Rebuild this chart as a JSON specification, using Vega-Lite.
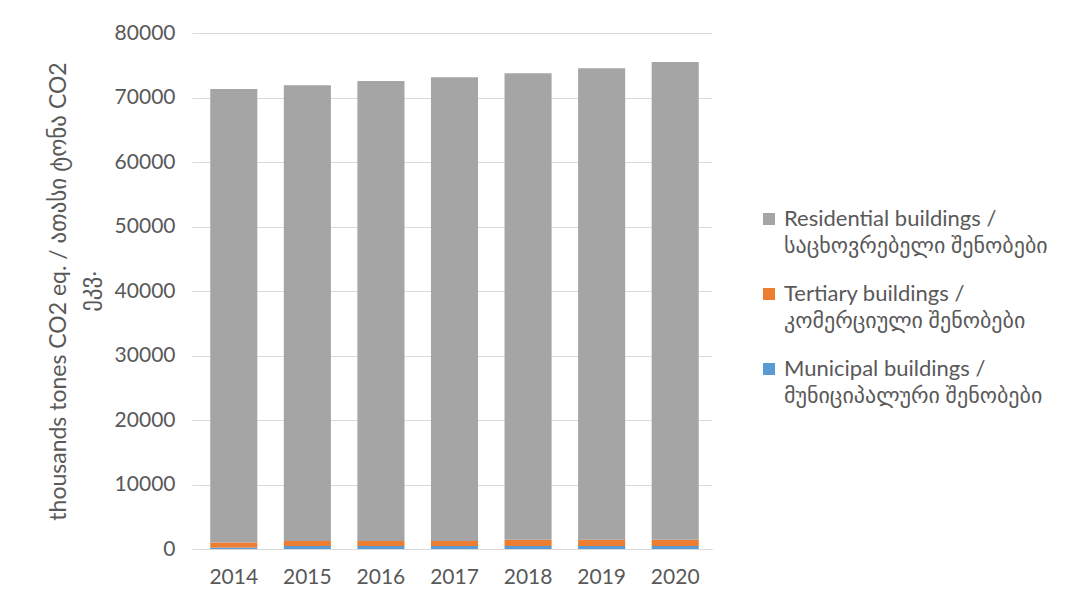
{
  "$schema": "https://vega.github.io/schema/vega-lite/v6.json",
  "width": 515,
  "height": 516,
  "autosize": "none",
  "padding": {"left": 197, "top": 33, "right": 377, "bottom": 61},
  "background": "white",
  "config": {
    "view": {"stroke": null},
    "font": "Lato, DejaVu Sans",
    "axis": {"labelFont": "Lato, DejaVu Sans", "titleFont": "Lato, DejaVu Sans", "labelColor": "#595959", "titleColor": "#595959"},
    "legend": {"labelFont": "Lato, DejaVu Sans", "labelColor": "#595959"},
    "style": {"guide-label": {"lineHeight": 27}}
  },
  "data": {
    "values": [
      {"year": "2014", "series": "Municipal buildings / მუნიციპალური შენობები", "value": 250},
      {"year": "2014", "series": "Tertiary buildings / კომერციული შენობები", "value": 750},
      {"year": "2014", "series": "Residential buildings / საცხოვრებელი შენობები", "value": 70300},
      {"year": "2015", "series": "Municipal buildings / მუნიციპალური შენობები", "value": 450},
      {"year": "2015", "series": "Tertiary buildings / კომერციული შენობები", "value": 800},
      {"year": "2015", "series": "Residential buildings / საცხოვრებელი შენობები", "value": 70650},
      {"year": "2016", "series": "Municipal buildings / მუნიციპალური შენობები", "value": 450},
      {"year": "2016", "series": "Tertiary buildings / კომერციული შენობები", "value": 800},
      {"year": "2016", "series": "Residential buildings / საცხოვრებელი შენობები", "value": 71300},
      {"year": "2017", "series": "Municipal buildings / მუნიციპალური შენობები", "value": 450},
      {"year": "2017", "series": "Tertiary buildings / კომერციული შენობები", "value": 800},
      {"year": "2017", "series": "Residential buildings / საცხოვრებელი შენობები", "value": 71900},
      {"year": "2018", "series": "Municipal buildings / მუნიციპალური შენობები", "value": 450},
      {"year": "2018", "series": "Tertiary buildings / კომერციული შენობები", "value": 1000},
      {"year": "2018", "series": "Residential buildings / საცხოვრებელი შენობები", "value": 72300},
      {"year": "2019", "series": "Municipal buildings / მუნიციპალური შენობები", "value": 450},
      {"year": "2019", "series": "Tertiary buildings / კომერციული შენობები", "value": 1000},
      {"year": "2019", "series": "Residential buildings / საცხოვრებელი შენობები", "value": 73100},
      {"year": "2020", "series": "Municipal buildings / მუნიციპალური შენობები", "value": 450},
      {"year": "2020", "series": "Tertiary buildings / კომერციული შენობები", "value": 1000},
      {"year": "2020", "series": "Residential buildings / საცხოვრებელი შენობები", "value": 74050}
    ]
  },
  "transform": [
    {"calculate": "indexof(['Municipal buildings / მუნიციპალური შენობები', 'Tertiary buildings / კომერციული შენობები', 'Residential buildings / საცხოვრებელი შენობები'], datum.series)", "as": "stackOrder"}
  ],
  "mark": {"type": "bar"},
  "encoding": {
    "x": {
      "field": "year", "type": "ordinal",
      "scale": {"paddingInner": 0.36, "paddingOuter": 0.18},
      "axis": {"title": null, "labelAngle": 0, "labelFontSize": 21, "labelPadding": 17, "ticks": false, "domainColor": "#d9d9d9", "domainWidth": 1, "grid": false}
    },
    "y": {
      "field": "value", "type": "quantitative", "stack": "zero",
      "scale": {"domain": [0, 80000], "nice": false},
      "axis": {
        "title": ["thousands tones CO2 eq. / ათასი ტონა CO2", "ეკვ."],
        "titleFontSize": 23, "titleFontWeight": "normal", "titlePadding": 14, "titleLineHeight": 30,
        "values": [0, 10000, 20000, 30000, 40000, 50000, 60000, 70000, 80000],
        "format": "d", "labelFontSize": 21, "labelPadding": 17,
        "domain": false, "ticks": true, "tickSize": 5, "tickColor": "#d9d9d9",
        "grid": true, "gridColor": "#d9d9d9", "gridWidth": 1
      }
    },
    "order": {"field": "stackOrder", "type": "quantitative", "sort": "ascending"},
    "color": {
      "field": "series", "type": "nominal",
      "scale": {
        "domain": ["Residential buildings / საცხოვრებელი შენობები", "Tertiary buildings / კომერციული შენობები", "Municipal buildings / მუნიციპალური შენობები"],
        "range": ["#a5a5a5", "#ed7d31", "#5b9bd5"]
      },
      "legend": {
        "title": null,
        "orient": "none", "legendX": 561, "legendY": 175,
        "symbolType": "square", "symbolSize": 144, "symbolStrokeWidth": 0,
        "labelFontSize": 22, "labelLimit": 400, "labelOffset": 4,
        "rowPadding": 26,
        "labelExpr": "[slice(datum.label, 0, indexof(datum.label, '/') + 1), slice(datum.label, indexof(datum.label, '/') + 2)]"
      }
    }
  }
}
